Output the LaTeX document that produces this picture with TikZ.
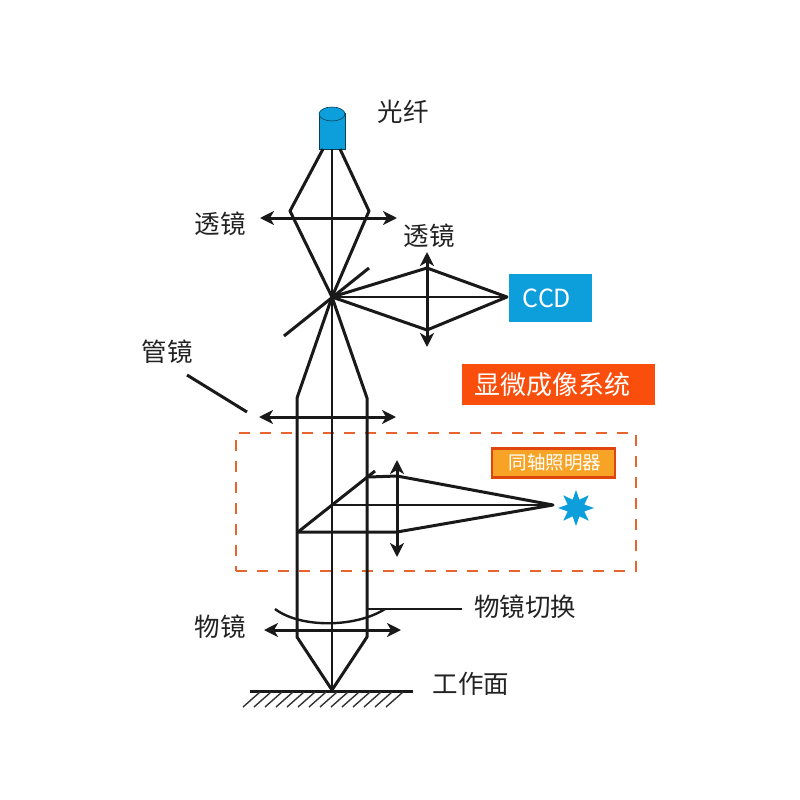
\documentclass[tikz,border=0pt]{standalone}
\usepackage{fontspec}
\setmainfont{Noto Sans CJK SC}
\usepackage{tikz}
\usetikzlibrary{arrows.meta,shapes,positioning}

\definecolor{fiberblue}{HTML}{0D9FDB}
\definecolor{redbox}{HTML}{F94E0C}
\definecolor{dashorange}{HTML}{E8642E}
\definecolor{lampyellow}{HTML}{F7A325}
\definecolor{labelgray}{HTML}{222222}

\tikzset{
  ray/.style={line width=3pt, line join=round, draw=black!90},
  axis/.style={line width=2.2pt, draw=black!90},
  lens/.style={line width=3pt, draw=black!90, {Stealth[length=14pt,width=14pt,inset=4pt]}-{Stealth[length=14pt,width=14pt,inset=4pt]}},
  tag/.style={inner sep=0pt, text=labelgray, font=\fontsize{25.5}{25.5}\selectfont}
}

\begin{document}
\begin{tikzpicture}[x=1pt,y=-1pt]
  \useasboundingbox (0,0) rectangle (800,800);

  % Points on the rays
  \coordinate (focus) at (332,297);
  \coordinate (fiberl) at (323,149);
  \coordinate (fiberr) at (340,149);
  \coordinate (fiberm) at (332,149);
  \coordinate (lens1l) at (290,211);
  \coordinate (lens1r) at (369,211);
  \coordinate (lens2t) at (427,268);
  \coordinate (lens2b) at (427,330);
  \coordinate (tubel) at (297,398);
  \coordinate (tuber) at (367,398);
  \coordinate (objl) at (297,637);
  \coordinate (objr) at (367,637);
  \coordinate (sample) at (332,690);

  % Dashed box
  \node[draw=dashorange, dash pattern=on 11pt off 10pt, line width=2.5pt, minimum width=400pt, minimum height=138pt, inner sep=0pt] (illumbox) at (436,502) {};

  % Fiber
  \node[fill=fiberblue, draw=black!60!fiberblue, line width=0.6pt, minimum width=26pt, minimum height=36pt, inner sep=0pt] (fiber) at (332,131) {};
  \node[ellipse, fill=fiberblue, draw=black!60!fiberblue, line width=0.6pt, minimum width=26pt, minimum height=14pt, inner sep=0pt] (fibertop) at (332,114) {};

  % Upper rays
  \draw[axis] (fiberm) -- (sample);
  \draw[ray] (fiberl) -- (lens1l) -- (focus);
  \draw[ray] (fiberr) -- (lens1r) -- (focus);
  \draw[ray] (focus) -- (tubel) -- (objl) -- (sample);
  \draw[ray] (focus) -- (tuber) -- (objr) -- (sample);

  % Beam splitter and CCD branch
  \coordinate (split1a) at (284,336);
  \coordinate (split1b) at (369,268);
  \draw[ray] (split1a) -- (split1b);
  \node[fill=fiberblue, minimum width=83pt, minimum height=48pt, inner sep=0pt, text=white, font=\fontsize{25}{25}\selectfont] (ccd) at (550.5,298) {\hspace{-7pt}CCD};
  \coordinate (ccdtip) at (507,297);
  \draw[ray] (focus) -- (lens2t) -- (ccdtip) -- (lens2b) -- cycle;
  \draw[axis] (focus) -- (ccdtip);

  % Lenses
  \coordinate (l1a) at (260,218);
  \coordinate (l1b) at (397,218);
  \coordinate (l2a) at (427,252);
  \coordinate (l2b) at (427,347);
  \coordinate (l3a) at (259,417);
  \coordinate (l3b) at (396,417);
  \coordinate (l4a) at (397,460);
  \coordinate (l4b) at (397,557);
  \coordinate (l5a) at (264,630);
  \coordinate (l5b) at (401,630);
  \draw[lens] (l1a) -- (l1b);
  \draw[lens] (l2a) -- (l2b);
  \draw[lens] (l3a) -- (l3b);
  \draw[lens] (l4a) -- (l4b);
  \draw[lens] (l5a) -- (l5b);

  % Illuminator branch
  \node[star, star points=8, star point ratio=2, fill=fiberblue, minimum size=36pt, inner sep=0pt] (lamp) at (576,508) {};
  \coordinate (lamptip) at (553,505);
  \coordinate (split2a) at (298,532);
  \coordinate (split2b) at (375,471);
  \coordinate (split2c) at (369,477);
  \coordinate (l4t) at (397,476);
  \coordinate (l4d) at (397,532);
  \coordinate (axis2) at (332,505);
  \draw[ray] (split2a) -- (split2b);
  \draw[ray] (split2c) -- (l4t) -- (lamptip) -- (l4d) -- (split2a);
  \draw[axis] (axis2) -- (lamptip);

  % Boxes with text
  \node[fill=redbox, minimum width=193pt, minimum height=41pt, inner sep=0pt, text=white, font=\fontsize{26}{26}\selectfont] (system) at (558.5,384.5) {\hspace{-13pt}显微成像系统};
  \node[fill=lampyellow, draw=redbox!90!black, line width=2.5pt, minimum width=123pt, minimum height=29pt, inner sep=0pt, text=white, font=\fontsize{18.5}{18.5}\selectfont] (illum) at (553.5,463) {\hspace{3pt}同轴照明器};

  % Objective switch
  \coordinate (turretl) at (275,609);
  \coordinate (turretr) at (385,609);
  \coordinate (turretin) at (368,609);
  \coordinate (turretend) at (462,609);
  \draw[ray, line width=2.4pt] (turretl) .. controls (300,628) and (355,628) .. (turretr);
  \draw[ray, line width=2.4pt] (turretin) -- (turretend);

  % Work surface
  \coordinate (surfl) at (250,691);
  \coordinate (surfr) at (413,691);
  \draw[ray] (surfl) -- (surfr);
  \foreach \i in {0,...,13}
    \draw[line width=1.4pt, draw=black!80] ({260+\i*11},692) -- ({243+\i*11},707);

  % Leader of the tube lens
  \coordinate (leadera) at (187,375);
  \coordinate (leaderb) at (247,412);
  \draw[ray] (leadera) -- (leaderb);

  % Labels
  \node[tag] (fibertext) at (403,112) {光纤};
  \node[tag] (lens1text) at (220,224) {透镜};
  \node[tag] (lens2text) at (429,236) {透镜};
  \node[tag] (tubetext) at (167,352) {管镜};
  \node[tag] (objtext) at (220,627) {物镜};
  \node[tag] (switchtext) at (525,607) {物镜切换};
  \node[tag] (surftext) at (471,684) {工作面};
\end{tikzpicture}
\end{document}
